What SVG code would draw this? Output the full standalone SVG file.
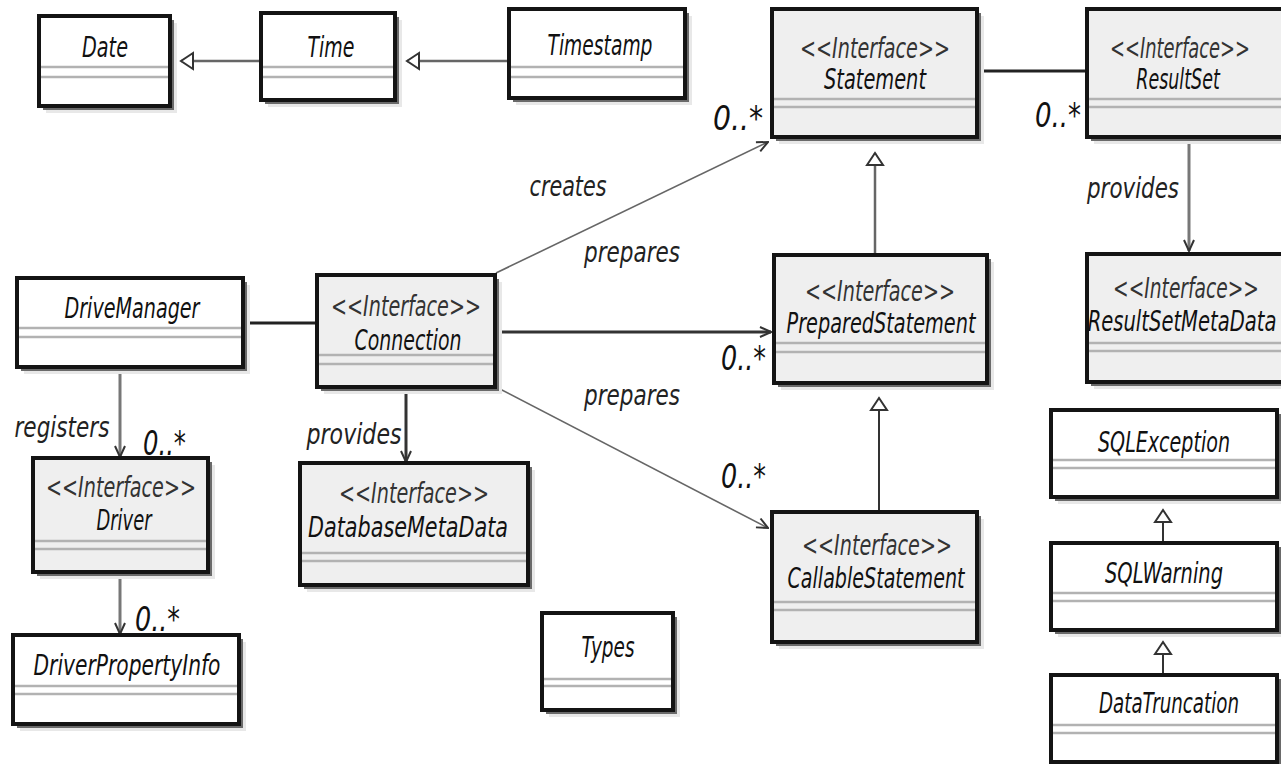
<svg xmlns="http://www.w3.org/2000/svg" width="1281" height="764" viewBox="0 0 1281 764">
<style>
.sh2{fill:#e8e8e8}
.sh1{fill:#6a6a6a}
.box{stroke:#141414;stroke-width:4}
.cls{fill:#ffffff}
.ifc{fill:#efefef}
.sep{stroke:#b2b2b2;stroke-width:2.5}
text{font-family:'DejaVu Sans Condensed','Liberation Sans Narrow','Liberation Sans',sans-serif;font-style:italic;text-anchor:middle}
.nm{font-size:29px;fill:#111}
.st{font-size:28px;fill:#333}
.lb{font-size:29px;fill:#222}
.mu{font-size:33px;fill:#111;text-anchor:start}
.gen{fill:none;stroke:#666;stroke-width:2.5}
.gend{fill:none;stroke:#333;stroke-width:2}
.asc{fill:none;stroke:#222;stroke-width:3}
.nav{fill:none;stroke:#777;stroke-width:3}
.navd{fill:none;stroke:#333;stroke-width:3}
.dep{fill:none;stroke:#666;stroke-width:1.6}
</style>
<defs>
<marker id="tri" markerUnits="userSpaceOnUse" markerWidth="16" markerHeight="20" viewBox="0 0 16 20" refX="14" refY="10" orient="auto">
<path d="M2,2 L14,10 L2,18 Z" fill="#fff" stroke="#333" stroke-width="2"/>
</marker>
<marker id="vee" markerUnits="userSpaceOnUse" markerWidth="14" markerHeight="14" viewBox="0 0 14 14" refX="13" refY="7" orient="auto">
<path d="M2,2 L13,7 L2,12" fill="none" stroke="#333" stroke-width="2"/>
</marker>
</defs>

<g id="connectors">
<path class="gen" d="M261,61 L181,61" marker-end="url(#tri)"/>
<path class="gen" d="M509,61 L407,61" marker-end="url(#tri)"/>
<path class="asc" d="M977,71 L1087,71"/>
<path class="asc" d="M243,323 L317,323"/>
<path class="gen" d="M875,255 L875,153" marker-end="url(#tri)"/>
<path class="gend" d="M879,512 L879,398" marker-end="url(#tri)"/>
<path class="gend" d="M1163,543 L1163,510" marker-end="url(#tri)"/>
<path class="gend" d="M1163,675 L1163,642" marker-end="url(#tri)"/>
<path class="dep" d="M496,273 L768,142" marker-end="url(#vee)"/>
<path class="navd" d="M495,332 L771,332" marker-end="url(#vee)"/>
<path class="dep" d="M498,388 L768,528" marker-end="url(#vee)"/>
<path class="nav" d="M1189,137 L1189,251" marker-end="url(#vee)"/>
<path class="nav" d="M120,367 L120,457" marker-end="url(#vee)"/>
<path class="navd" d="M406,387 L406,462" marker-end="url(#vee)"/>
<path class="nav" d="M120,572 L120,634" marker-end="url(#vee)"/>
<text class="lb" x="568" y="196" textLength="77" lengthAdjust="spacingAndGlyphs">creates</text>
<text class="lb" x="632" y="262" textLength="96" lengthAdjust="spacingAndGlyphs">prepares</text>
<text class="lb" x="632" y="405" textLength="96" lengthAdjust="spacingAndGlyphs">prepares</text>
<text class="lb" x="1133" y="198" textLength="92" lengthAdjust="spacingAndGlyphs">provides</text>
<text class="lb" x="354" y="444" textLength="95" lengthAdjust="spacingAndGlyphs">provides</text>
<text class="lb" x="62" y="437" textLength="95" lengthAdjust="spacingAndGlyphs">registers</text>
<text class="mu" x="143" y="455" textLength="43" lengthAdjust="spacingAndGlyphs">0..*</text>
<text class="mu" x="135" y="631" textLength="45" lengthAdjust="spacingAndGlyphs">0..*</text>
<text class="mu" x="721" y="370" textLength="45" lengthAdjust="spacingAndGlyphs">0..*</text>
<text class="mu" x="721" y="488" textLength="45" lengthAdjust="spacingAndGlyphs">0..*</text>
<text class="mu" x="713" y="130" textLength="50" lengthAdjust="spacingAndGlyphs">0..*</text>
<text class="mu" x="1035" y="127" textLength="46" lengthAdjust="spacingAndGlyphs">0..*</text>
</g>

<g id="n-date">
<rect class="sh2" x="46" y="23" width="131" height="90"/>
<rect class="sh1" x="43" y="20" width="131" height="90"/>
<rect class="box cls" x="39" y="16" width="131" height="90"/>
<line class="sep" x1="41" y1="67" x2="168" y2="67"/>
<line class="sep" x1="41" y1="77" x2="168" y2="77"/>
<text class="nm" x="105" y="57" textLength="46" lengthAdjust="spacingAndGlyphs">Date</text>
</g>

<g id="n-time">
<rect class="sh2" x="268" y="20" width="134" height="87"/>
<rect class="sh1" x="265" y="17" width="134" height="87"/>
<rect class="box cls" x="261" y="13" width="134" height="87"/>
<line class="sep" x1="263" y1="67" x2="393" y2="67"/>
<line class="sep" x1="263" y1="77" x2="393" y2="77"/>
<text class="nm" x="331" y="57" textLength="47" lengthAdjust="spacingAndGlyphs">Time</text>
</g>

<g id="n-timestamp">
<rect class="sh2" x="516" y="16" width="176" height="89"/>
<rect class="sh1" x="513" y="13" width="176" height="89"/>
<rect class="box cls" x="509" y="9" width="176" height="89"/>
<line class="sep" x1="511" y1="67" x2="683" y2="67"/>
<line class="sep" x1="511" y1="77" x2="683" y2="77"/>
<text class="nm" x="600" y="55" textLength="105" lengthAdjust="spacingAndGlyphs">Timestamp</text>
</g>

<g id="n-statement">
<rect class="sh2" x="779" y="16" width="205" height="128"/>
<rect class="sh1" x="776" y="13" width="205" height="128"/>
<rect class="box ifc" x="772" y="9" width="205" height="128"/>
<line class="sep" x1="774" y1="99" x2="975" y2="99"/>
<line class="sep" x1="774" y1="107" x2="975" y2="107"/>
<text class="st" x="875" y="58" textLength="150" lengthAdjust="spacingAndGlyphs">&lt;&lt;Interface&gt;&gt;</text>
<text class="nm" x="875" y="89" textLength="102" lengthAdjust="spacingAndGlyphs">Statement</text>
</g>

<g id="n-resultset">
<rect class="sh2" x="1094" y="16" width="206" height="128"/>
<rect class="sh1" x="1091" y="13" width="206" height="128"/>
<rect class="box ifc" x="1087" y="9" width="206" height="128"/>
<line class="sep" x1="1089" y1="99" x2="1291" y2="99"/>
<line class="sep" x1="1089" y1="107" x2="1291" y2="107"/>
<text class="st" transform="translate(1180,58) scale(0.71,1)">&lt;&lt;Interface&gt;&gt;</text>
<text class="nm" transform="translate(1178,89) scale(0.67,1)">ResultSet</text>
</g>

<g id="n-drivemanager">
<rect class="sh2" x="24" y="285" width="226" height="89"/>
<rect class="sh1" x="21" y="282" width="226" height="89"/>
<rect class="box cls" x="17" y="278" width="226" height="89"/>
<line class="sep" x1="19" y1="328" x2="241" y2="328"/>
<line class="sep" x1="19" y1="337" x2="241" y2="337"/>
<text class="nm" x="132" y="318" textLength="135" lengthAdjust="spacingAndGlyphs">DriveManager</text>
</g>

<g id="n-connection">
<rect class="sh2" x="324" y="282" width="178" height="112"/>
<rect class="sh1" x="321" y="279" width="178" height="112"/>
<rect class="box ifc" x="317" y="275" width="178" height="112"/>
<line class="sep" x1="319" y1="355" x2="493" y2="355"/>
<line class="sep" x1="319" y1="364" x2="493" y2="364"/>
<text class="st" x="406" y="316" textLength="150" lengthAdjust="spacingAndGlyphs">&lt;&lt;Interface&gt;&gt;</text>
<text class="nm" x="408" y="350" textLength="107" lengthAdjust="spacingAndGlyphs">Connection</text>
</g>

<g id="n-preparedstatement">
<rect class="sh2" x="781" y="262" width="213" height="128"/>
<rect class="sh1" x="778" y="259" width="213" height="128"/>
<rect class="box ifc" x="774" y="255" width="213" height="128"/>
<line class="sep" x1="776" y1="343" x2="985" y2="343"/>
<line class="sep" x1="776" y1="352" x2="985" y2="352"/>
<text class="st" x="880" y="301" textLength="150" lengthAdjust="spacingAndGlyphs">&lt;&lt;Interface&gt;&gt;</text>
<text class="nm" x="881" y="333" textLength="189" lengthAdjust="spacingAndGlyphs">PreparedStatement</text>
</g>

<g id="n-resultsetmetadata">
<rect class="sh2" x="1094" y="261" width="206" height="128"/>
<rect class="sh1" x="1091" y="258" width="206" height="128"/>
<rect class="box ifc" x="1087" y="254" width="206" height="128"/>
<line class="sep" x1="1089" y1="343" x2="1291" y2="343"/>
<line class="sep" x1="1089" y1="351" x2="1291" y2="351"/>
<text class="st" transform="translate(1186,298) scale(0.74,1)">&lt;&lt;Interface&gt;&gt;</text>
<text class="nm" transform="translate(1182,331) scale(0.75,1)">ResultSetMetaData</text>
</g>

<g id="n-driver">
<rect class="sh2" x="40" y="465" width="175" height="114"/>
<rect class="sh1" x="37" y="462" width="175" height="114"/>
<rect class="box ifc" x="33" y="458" width="175" height="114"/>
<line class="sep" x1="35" y1="541" x2="206" y2="541"/>
<line class="sep" x1="35" y1="549" x2="206" y2="549"/>
<text class="st" x="121" y="497" textLength="150" lengthAdjust="spacingAndGlyphs">&lt;&lt;Interface&gt;&gt;</text>
<text class="nm" x="124" y="530" textLength="55" lengthAdjust="spacingAndGlyphs">Driver</text>
</g>

<g id="n-databasemetadata">
<rect class="sh2" x="307" y="470" width="228" height="122"/>
<rect class="sh1" x="304" y="467" width="228" height="122"/>
<rect class="box ifc" x="300" y="463" width="228" height="122"/>
<line class="sep" x1="302" y1="553" x2="526" y2="553"/>
<line class="sep" x1="302" y1="561" x2="526" y2="561"/>
<text class="st" x="414" y="503" textLength="150" lengthAdjust="spacingAndGlyphs">&lt;&lt;Interface&gt;&gt;</text>
<text class="nm" x="408" y="537" textLength="200" lengthAdjust="spacingAndGlyphs">DatabaseMetaData</text>
</g>

<g id="n-callablestatement">
<rect class="sh2" x="779" y="519" width="205" height="130"/>
<rect class="sh1" x="776" y="516" width="205" height="130"/>
<rect class="box ifc" x="772" y="512" width="205" height="130"/>
<line class="sep" x1="774" y1="602" x2="975" y2="602"/>
<line class="sep" x1="774" y1="610" x2="975" y2="610"/>
<text class="st" x="877" y="555" textLength="150" lengthAdjust="spacingAndGlyphs">&lt;&lt;Interface&gt;&gt;</text>
<text class="nm" x="876" y="588" textLength="177" lengthAdjust="spacingAndGlyphs">CallableStatement</text>
</g>

<g id="n-types">
<rect class="sh2" x="549" y="620" width="131" height="97"/>
<rect class="sh1" x="546" y="617" width="131" height="97"/>
<rect class="box cls" x="542" y="613" width="131" height="97"/>
<line class="sep" x1="544" y1="679" x2="671" y2="679"/>
<line class="sep" x1="544" y1="686" x2="671" y2="686"/>
<text class="nm" x="608" y="657" textLength="53" lengthAdjust="spacingAndGlyphs">Types</text>
</g>

<g id="n-driverpropertyinfo">
<rect class="sh2" x="20" y="642" width="226" height="89"/>
<rect class="sh1" x="17" y="639" width="226" height="89"/>
<rect class="box cls" x="13" y="635" width="226" height="89"/>
<line class="sep" x1="15" y1="686" x2="237" y2="686"/>
<line class="sep" x1="15" y1="694" x2="237" y2="694"/>
<text class="nm" x="127" y="675" textLength="187" lengthAdjust="spacingAndGlyphs">DriverPropertyInfo</text>
</g>

<g id="n-sqlexception">
<rect class="sh2" x="1058" y="417" width="226" height="87"/>
<rect class="sh1" x="1055" y="414" width="226" height="87"/>
<rect class="box cls" x="1051" y="410" width="226" height="87"/>
<line class="sep" x1="1053" y1="460" x2="1275" y2="460"/>
<line class="sep" x1="1053" y1="468" x2="1275" y2="468"/>
<text class="nm" x="1164" y="452" textLength="132" lengthAdjust="spacingAndGlyphs">SQLException</text>
</g>

<g id="n-sqlwarning">
<rect class="sh2" x="1058" y="550" width="226" height="87"/>
<rect class="sh1" x="1055" y="547" width="226" height="87"/>
<rect class="box cls" x="1051" y="543" width="226" height="87"/>
<line class="sep" x1="1053" y1="593" x2="1275" y2="593"/>
<line class="sep" x1="1053" y1="601" x2="1275" y2="601"/>
<text class="nm" x="1164" y="583" textLength="118" lengthAdjust="spacingAndGlyphs">SQLWarning</text>
</g>

<g id="n-datatruncation">
<rect class="sh2" x="1058" y="682" width="226" height="87"/>
<rect class="sh1" x="1055" y="679" width="226" height="87"/>
<rect class="box cls" x="1051" y="675" width="226" height="87"/>
<line class="sep" x1="1053" y1="725" x2="1275" y2="725"/>
<line class="sep" x1="1053" y1="733" x2="1275" y2="733"/>
<text class="nm" transform="translate(1169,713) scale(0.70,1)">DataTruncation</text>
</g>
</svg>
